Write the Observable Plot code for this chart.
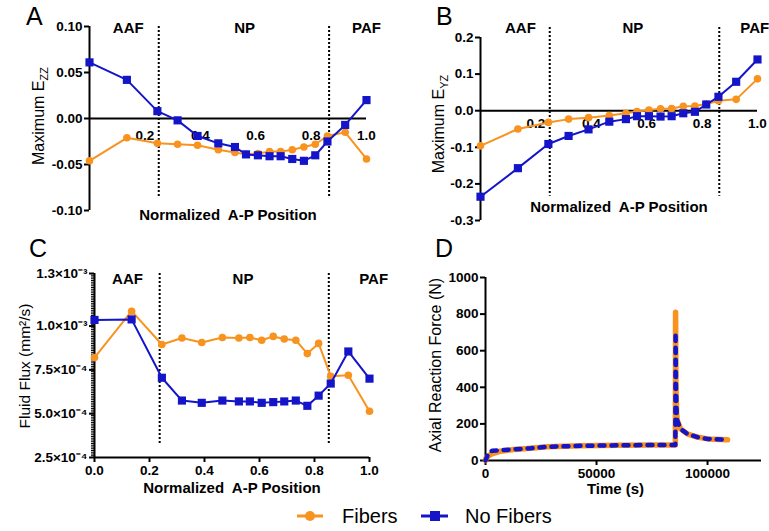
<!DOCTYPE html>
<html><head><meta charset="utf-8">
<script src="https://cdn.jsdelivr.net/npm/d3@7"></script>
<script src="https://cdn.jsdelivr.net/npm/@observablehq/plot@0.6"></script>
<style>
body{margin:0;background:#fff;}
#root{position:relative;width:769px;height:531px;overflow:hidden;font-family:'Liberation Sans',Arial,sans-serif;}
.panel{position:absolute;}
#overlay{position:absolute;left:0;top:0;pointer-events:none;}
</style></head><body><div id="root"></div>
<script>
// ---------- data ----------
const positions = [0, 0.135, 0.245, 0.318, 0.39, 0.465, 0.525, 0.565, 0.608, 0.65, 0.69, 0.732, 0.774, 0.815, 0.859, 0.923, 1.0];

const ezzFibers   = [-0.046, -0.021, -0.027, -0.028, -0.029, -0.034, -0.037, -0.039, -0.038, -0.036, -0.036, -0.034, -0.031, -0.028, -0.019, -0.015, -0.044];
const ezzNoFibers = [0.061, 0.042, 0.008, -0.002, -0.019, -0.027, -0.031, -0.039, -0.040, -0.041, -0.041, -0.044, -0.046, -0.040, -0.025, -0.007, 0.020];

const eyzFibers   = [-0.096, -0.050, -0.032, -0.023, -0.019, -0.013, -0.007, -0.002, 0.002, 0.005, 0.006, 0.012, 0.013, 0.018, 0.027, 0.031, 0.087];
const eyzNoFibers = [-0.235, -0.157, -0.091, -0.069, -0.051, -0.030, -0.023, -0.015, -0.015, -0.016, -0.015, -0.007, -0.003, 0.017, 0.038, 0.079, 0.140];

const fluxFibers   = [8.2e-4, 1.085e-3, 8.95e-4, 9.32e-4, 9.06e-4, 9.35e-4, 9.32e-4, 9.35e-4, 9.19e-4, 9.41e-4, 9.26e-4, 9.19e-4, 8.43e-4, 9.01e-4, 7.14e-4, 7.19e-4, 5.14e-4];
const fluxNoFibers = [1.035e-3, 1.038e-3, 7.05e-4, 5.75e-4, 5.62e-4, 5.75e-4, 5.70e-4, 5.70e-4, 5.62e-4, 5.66e-4, 5.70e-4, 5.75e-4, 5.45e-4, 6.03e-4, 6.72e-4, 8.55e-4, 7.00e-4];

const timeFibers  = [0, 300, 2250, 6750, 12700, 20300, 27800, 42800, 60000, 75000, 85500, 85600, 85800, 86100, 86350, 87840, 90850, 95350, 100000, 109000];
const forceFibers = [0, 15, 33, 51, 60, 67, 75, 80, 83, 85, 85, 810, 400, 260, 219, 173, 146, 128, 118, 113];
const timeNoFibers  = [0, 1500, 3000, 8000, 12700, 20300, 27800, 42800, 60000, 75000, 85500, 85600, 85800, 86100, 86350, 87840, 90850, 95350, 100000, 109000];
const forceNoFibers = [0, 45, 53, 57, 61, 67, 75, 80, 83, 85, 85, 700, 400, 260, 219, 173, 146, 128, 118, 113];

const regionNames = ["AAF", "NP", "PAF"];
const regionXA = [0.14, 0.56, 1.0];
const regionXB = [0.144, 0.55, 0.99];
const regionXC = [0.12, 0.54, 1.015];
const dividersA = [0.25, 0.865];
const dividersB = [0.25, 0.862];
const dividersC = [0.237, 0.852];

const xTicksAB = [0.2, 0.4, 0.6, 0.8, 1.0];
const xTickLabelsAB = ["0.2", "0.4", "0.6", "0.8", "1.0"];
const xTicksC = [0, 0.2, 0.4, 0.6, 0.8, 1.0];
const xTickLabelsC = ["0.0", "0.2", "0.4", "0.6", "0.8", "1.0"];
const yTicksA = [-0.1, -0.05, 0, 0.05, 0.1];
const yTickLabelsA = ["-0.10", "-0.05", "0.00", "0.05", "0.10"];
const yTicksB = [-0.3, -0.2, -0.1, 0, 0.1, 0.2];
const yTickLabelsB = ["-0.3", "-0.2", "-0.1", "0.0", "0.1", "0.2"];
const yTicksC = [2.5e-4, 5.0e-4, 7.5e-4, 1.0e-3, 1.3e-3];
const yTickLabelsC = ["2.5×10⁻⁴", "5.0×10⁻⁴", "7.5×10⁻⁴", "1.0×10⁻³", "1.3×10⁻³"];
const xTicksD = [0, 50000, 100000];
const xTickLabelsD = ["0", "50000", "100000"];
const yTicksD = [0, 200, 400, 600, 800, 1000];
const yTickLabelsD = ["0", "200", "400", "600", "800", "1000"];

const xLabel = "Normalized  A-P Position";
const seriesNames = ["Fibers", "No Fibers"];

// ---------- style ----------
const ORANGE = "#F7931E", BLUE = "#1414C8";
const FONT = "'Liberation Sans', Arial, sans-serif";
const root = document.getElementById("root");

function rows(xs, ys) { return xs.map((x, i) => ({x, y: ys[i]})); }
function fmt(ticks, labels) { return d => labels[ticks.indexOf(d)]; }
function place(svg, left, top) {
  const div = document.createElement("div");
  div.className = "panel";
  div.style.left = left + "px";
  div.style.top = top + "px";
  div.appendChild(svg);
  root.appendChild(div);
}
const baseStyle = {fontFamily: FONT, fontSize: "13.5px", fontWeight: "bold", color: "#000", background: "transparent", overflow: "visible"};

function seriesMarks(xs, yF, yN) {
  const f = rows(xs, yF), n = rows(xs, yN);
  return [
    Plot.line(f, {x: "x", y: "y", stroke: ORANGE, strokeWidth: 2}),
    Plot.dot(f, {x: "x", y: "y", r: 3.8, fill: ORANGE, stroke: "none"}),
    Plot.line(n, {x: "x", y: "y", stroke: BLUE, strokeWidth: 2}),
    Plot.dot(n, {x: "x", y: "y", r: 4.6, symbol: "square", fill: BLUE, stroke: "none"})
  ];
}

// ---------- Panel A ----------
place(Plot.plot({
  width: 385, height: 230, marginLeft: 89, marginRight: 19, marginTop: 26, marginBottom: 20,
  style: baseStyle,
  x: {domain: [0, 1], axis: null},
  y: {domain: [-0.1, 0.1], axis: null},
  marks: [
    Plot.axisY({ticks: yTicksA, tickFormat: fmt(yTicksA, yTickLabelsA), tickSize: 5, tickPadding: 2, strokeWidth: 2, label: null}),
    Plot.ruleX([0], {strokeWidth: 2}),
    Plot.ruleY([0], {strokeWidth: 2}),
    Plot.text(xTicksAB, {x: d => d, y: 0, dy: 17, text: fmt(xTicksAB, xTickLabelsAB)}),
    Plot.ruleX(dividersA, {x: d => d, y1: 0.1, y2: -0.085, strokeWidth: 2, strokeDasharray: "2,2"}),
    ...seriesMarks(positions, ezzFibers, ezzNoFibers),
    Plot.text(regionNames, {x: (d, i) => regionXA[i], frameAnchor: "top", dy: -4, text: d => d, fontSize: 15}),
    Plot.text([xLabel], {frameAnchor: "bottom", dy: 9, text: d => d, fontSize: 15})
  ]
}), 0, 0);

// ---------- Panel B ----------
place(Plot.plot({
  width: 384, height: 230, marginLeft: 95, marginRight: 12, marginTop: 37, marginBottom: 10,
  style: baseStyle,
  x: {domain: [0, 1], axis: null},
  y: {domain: [-0.3, 0.2], axis: null},
  marks: [
    Plot.axisY({ticks: yTicksB, tickFormat: fmt(yTicksB, yTickLabelsB), tickSize: 5, tickPadding: 2, strokeWidth: 2, label: null}),
    Plot.ruleX([0], {strokeWidth: 2}),
    Plot.ruleY([0], {strokeWidth: 2}),
    Plot.text(xTicksAB, {x: d => d, y: 0, dy: 13, text: fmt(xTicksAB, xTickLabelsAB)}),
    Plot.ruleX(dividersB, {x: d => d, y1: 0.227, y2: -0.234, strokeWidth: 2, strokeDasharray: "2,2"}),
    ...seriesMarks(positions, eyzFibers, eyzNoFibers),
    Plot.text(regionNames, {x: (d, i) => regionXB[i], frameAnchor: "top", dy: -15, text: d => d, fontSize: 15}),
    Plot.text([xLabel], {frameAnchor: "bottom", dy: -9, text: d => d, fontSize: 15})
  ]
}), 385, 0);

// ---------- Panel C ----------
const minorTicksC = d3.range(250, 1301, 10).map(v => v * 1e-6);
place(Plot.plot({
  width: 385, height: 270, marginLeft: 94, marginRight: 16, marginTop: 43, marginBottom: 43,
  style: baseStyle,
  x: {domain: [0, 1], axis: null},
  y: {domain: [2.5e-4, 1.3e-3], axis: null},
  marks: [
    Plot.axisY({ticks: minorTicksC, tickFormat: () => "", tickSize: 3, strokeWidth: 1, label: null}),
    Plot.axisY({ticks: yTicksC, tickFormat: fmt(yTicksC, yTickLabelsC), tickSize: 5, tickPadding: 2, strokeWidth: 2, label: null}),
    Plot.axisX({ticks: xTicksC, tickFormat: fmt(xTicksC, xTickLabelsC), tickSize: 5, tickPadding: 3, strokeWidth: 2, label: null}),
    Plot.ruleX([0], {strokeWidth: 2}),
    Plot.ruleY([2.5e-4], {strokeWidth: 2}),
    Plot.ruleX(dividersC, {x: d => d, y1: 1.3e-3, y2: 3.3e-4, strokeWidth: 2, strokeDasharray: "2,2"}),
    ...seriesMarks(positions, fluxFibers, fluxNoFibers),
    Plot.text(regionNames, {x: (d, i) => regionXC[i], frameAnchor: "top", dy: 0, text: d => d, fontSize: 15}),
    Plot.text([xLabel], {frameAnchor: "bottom", dy: 35, text: d => d, fontSize: 15})
  ]
}), 0, 230);

// ---------- Panel D ----------
place(Plot.plot({
  width: 384, height: 270, marginLeft: 100, marginRight: 8, marginTop: 47, marginBottom: 40,
  style: baseStyle,
  x: {domain: [0, 124300], axis: null},
  y: {domain: [0, 1000], axis: null},
  marks: [
    Plot.axisY({ticks: yTicksD, tickFormat: fmt(yTicksD, yTickLabelsD), tickSize: 5, tickPadding: 2, strokeWidth: 2, label: null}),
    Plot.axisX({ticks: xTicksD, tickFormat: fmt(xTicksD, xTickLabelsD), tickSize: 5, tickPadding: 3, strokeWidth: 2, label: null}),
    Plot.ruleX([0], {strokeWidth: 2}),
    Plot.ruleY([0], {strokeWidth: 2}),
    Plot.line(rows(timeFibers, forceFibers), {x: "x", y: "y", stroke: ORANGE, strokeWidth: 5.5, strokeLinecap: "round", strokeLinejoin: "round"}),
    Plot.line(rows(timeNoFibers, forceNoFibers), {x: "x", y: "y", stroke: BLUE, strokeWidth: 4.5, strokeDasharray: "5,7", strokeLinecap: "round", strokeLinejoin: "round"}),
    Plot.text(["Time (s)"], {frameAnchor: "bottom", dx: -8, dy: 33, text: d => d, fontSize: 15})
  ]
}), 385, 230);

// ---------- overlay: panel letters, y titles, legend ----------
const NS = "http://www.w3.org/2000/svg";
const ov = document.createElementNS(NS, "svg");
ov.setAttribute("id", "overlay");
ov.setAttribute("width", 769);
ov.setAttribute("height", 531);
ov.setAttribute("font-family", FONT);
root.appendChild(ov);
function el(tag, attrs, parent = ov) {
  const e = document.createElementNS(NS, tag);
  for (const k in attrs) e.setAttribute(k, attrs[k]);
  parent.appendChild(e);
  return e;
}
function txt(str, attrs, parent = ov) { const t = el("text", attrs, parent); t.textContent = str; return t; }

[["A", 26, 25], ["B", 436, 25], ["C", 29, 257], ["D", 435, 257]].forEach(([s, x, y]) =>
  txt(s, {x, y, "font-size": 25}));

function yTitle(x, y, main, sub, size) {
  const t = el("text", {transform: `translate(${x},${y}) rotate(-90)`, "text-anchor": "middle", "font-size": size});
  const a = el("tspan", {}, t); a.textContent = main;
  if (sub) { const b = el("tspan", {"font-size": 11, dy: 4}, t); b.textContent = sub; }
  return t;
}
yTitle(44, 116, "Maximum E", "ZZ", 16);
yTitle(444, 124, "Maximum E", "YZ", 16);
yTitle(30, 366, "Fluid Flux (mm²/s)", null, 15.5);
yTitle(441, 365, "Axial Reaction Force (N)", null, 16);

// legend
el("line", {x1: 297, x2: 323, y1: 516, y2: 516, stroke: ORANGE, "stroke-width": 3});
el("circle", {cx: 310, cy: 516, r: 5, fill: ORANGE});
txt(seriesNames[0], {x: 342, y: 523, "font-size": 20});
el("line", {x1: 421, x2: 448, y1: 516, y2: 516, stroke: BLUE, "stroke-width": 3});
el("rect", {x: 430, y: 511, width: 10, height: 10, fill: BLUE});
txt(seriesNames[1], {x: 465, y: 523, "font-size": 20});
</script></body></html>
